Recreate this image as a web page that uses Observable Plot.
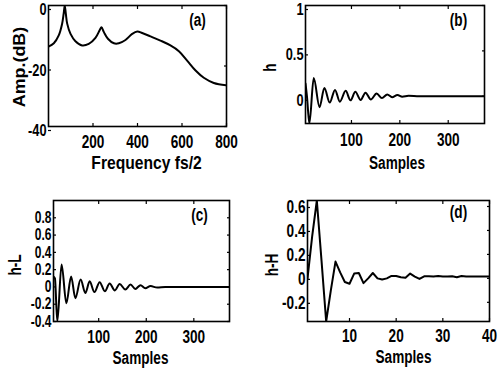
<!DOCTYPE html>
<html><head><meta charset="utf-8">
<script src="https://cdn.jsdelivr.net/npm/d3@7"></script>
<script src="https://cdn.jsdelivr.net/npm/@observablehq/plot@0.6"></script>
<style>
html,body{margin:0;padding:0;background:#fff;}
#fig{position:relative;width:499px;height:374px;overflow:hidden;background:#fff;}
#fig svg{position:absolute;}
</style></head><body><div id="fig"></div>
<script>
// (a) amplitude response
const aFreq = [0, 24, 46, 61, 68, 73, 78, 84, 99, 121, 151, 181, 211, 231, 238, 249, 267, 294, 316, 346, 376, 399, 421, 458, 503, 548, 586, 623, 661, 698, 743, 800];
const aAmp  = [-13.6, -12.5, -9.9, -6.1, -2.8, 0, -2.8, -6, -9.4, -11.8, -13.2, -12.7, -10.7, -8.0, -7.2, -8.8, -11, -12.5, -12.5, -11.4, -9.4, -8.6, -9.1, -10.2, -11.6, -13.2, -15.1, -18.2, -21.5, -23.9, -25.6, -26.4];
// (b) h
const bSamples = [5, 8, 13, 22, 34, 44, 55, 66, 76, 88, 98, 108, 119, 129, 140, 152, 163, 174, 184, 195, 205, 218, 240, 280, 330, 375];
const bValues  = [0.14, 0.0, -0.3, 0.2, -0.12, 0.09, -0.07, 0.07, -0.06, 0.06, -0.045, 0.05, -0.04, 0.04, -0.035, 0.03, -0.02, 0.02, -0.01, 0.015, -0.005, 0.005, 0, 0, 0, 0];
// (c) h-L
const cSamples = [5, 8, 13, 22, 32, 42, 51, 62, 72, 81, 91, 102, 113, 123, 134, 144, 156, 167, 177, 188, 198, 209, 223, 240, 300, 375];
const cValues  = [0.12, 0.1, -0.4, 0.26, -0.19, 0.12, -0.13, 0.085, -0.07, 0.065, -0.06, 0.055, -0.05, 0.04, -0.04, 0.035, -0.03, 0.027, -0.023, 0.02, -0.015, 0.01, -0.008, 0, 0, 0];
// (d) h-H
const dSamples = [1,2,3,4,5,6,7,8,9,10,11,12,13,14,15,16,17,18,19,20,21,22,23,24,25,26,27,28,29,30,31,32,33,34,35,36,37,38,39,40];
const dValues  = [0.0, 0.35, 0.65, 0.15, -0.36, -0.1, 0.14, 0.05, -0.03, -0.045, 0.04, 0.045, -0.04, 0.0, 0.045, 0.0, -0.01, 0.0, 0.02, 0.02, 0.01, 0.005, 0.04, 0.015, -0.005, 0.017, 0.017, 0.015, 0.02, 0.015, 0.015, 0.018, 0.01, 0.02, 0.015, 0.015, 0.015, 0.015, 0.015, 0.015];
// ticks
const aXTicks = [200, 400, 600, 800], aYTicks = [-40, -20, 0];
const bXTicks = [100, 200, 300], bYTicks = [0, 0.5, 1];
const cXTicks = [100, 200, 300], cYTicks = [-0.4, -0.2, 0, 0.2, 0.4, 0.6, 0.8];
const dXTicks = [10, 20, 30, 40], dYTicks = [-0.2, 0, 0.2, 0.4, 0.6];

const FONT = "'Liberation Sans Narrow','Arial Narrow','Liberation Sans',Arial,sans-serif";

function condense(svg) {
  svg.querySelectorAll("text").forEach(t => {
    const txt = t.textContent;
    const s = txt === "Amp.(dB)" ? "scale(1.05,1)" : txt === "Frequency fs/2" ? "scale(0.92,1.08)" : "scale(0.8,1.08)";
    let tr = t.getAttribute("transform");
    if (!tr) {
      const x = +(t.getAttribute("x") || 0), y = +(t.getAttribute("y") || 0);
      t.removeAttribute("x"); t.removeAttribute("y");
      tr = `translate(${x},${y})`;
    }
    t.setAttribute("transform", tr + " " + s);
  });
}

function panel(o) {
  const rows = o.xs.map((x, i) => ({x, y: o.ys[i]}));
  const p = Plot.plot({
    width: o.width, height: o.height,
    marginLeft: o.ml, marginRight: o.mr, marginTop: o.mt, marginBottom: o.mb,
    style: {fontFamily: FONT, fontSize: "17px", fontWeight: "bold", background: "transparent", color: "black", overflow: "visible"},
    x: {domain: o.xDomain},
    y: {domain: o.yDomain},
    marks: [
      Plot.line(rows, {x: "x", y: "y", stroke: "black", strokeWidth: 2, curve: o.curve, clip: true}),
      Plot.frame({stroke: "black", strokeWidth: 1.6}),
      Plot.axisX(o.xTicks, {anchor: "bottom", tickSize: -3, tickPadding: o.xPad, tickFormat: d => String(d), label: null, strokeWidth: 1.2}),
      Plot.axisX(o.xTicks, {anchor: "top", tickSize: -3, tickFormat: () => "", label: null, strokeWidth: 1.2}),
      Plot.axisY(o.yTicks, {anchor: "left", tickSize: -3, tickPadding: 5, dy: o.yDy, fontSize: o.yFont, tickFormat: d => String(d), label: null, strokeWidth: 1.2}),
      Plot.axisY(o.yTicks, {anchor: "right", tickSize: -3, tickFormat: () => "", label: null, strokeWidth: 1.2}),
      Plot.text([o.xLabel], {text: d => d, frameAnchor: "bottom", dx: o.xlDx, dy: o.xlDy, lineAnchor: "middle", textAnchor: "middle"}),
      Plot.text([o.yLabel], {text: d => d, frameAnchor: "left", dx: o.ylDx, dy: o.ylDy, rotate: -90, lineAnchor: "middle", textAnchor: "middle"}),
      Plot.text([o.tag], {text: d => d, frameAnchor: "top-right", dx: o.tDx, dy: o.tDy, lineAnchor: "middle", textAnchor: "middle"})
    ]
  });
  condense(p);
  p.style.left = o.left + "px";
  p.style.top = o.top + "px";
  document.getElementById("fig").appendChild(p);
}

panel({xs: aFreq, ys: aAmp, xDomain: [0, 800], yDomain: [-40, 0], xTicks: aXTicks, yTicks: aYTicks,
  left: 0, top: 0, width: 250, height: 187, ml: 48, mr: 24, mt: 5, mb: 61, curve: "catmull-rom", xPad: 11, yDy: 4, yFont: 16,
  xLabel: "Frequency fs/2", xlDx: 9, xlDy: 37, yLabel: "Amp.(dB)", ylDx: -29, ylDy: 1, tag: "(a)", tDx: -29, tDy: 15});

panel({xs: bSamples, ys: bValues, xDomain: [5, 375], yDomain: [-0.3, 1], xTicks: bXTicks, yTicks: bYTicks,
  left: 250, top: 0, width: 249, height: 187, ml: 55, mr: 15, mt: 5, mb: 64, curve: "monotone-x", xPad: 12, yDy: 4, yFont: 16,
  xLabel: "Samples", xlDx: 2, xlDy: 40, yLabel: "h", ylDx: -35, ylDy: 3, tag: "(b)", tDx: -26, tDy: 15});

panel({xs: cSamples, ys: cValues, xDomain: [5, 375], yDomain: [-0.4, 1], xTicks: cXTicks, yTicks: cYTicks,
  left: 0, top: 187, width: 250, height: 187, ml: 53, mr: 21, mt: 13, mb: 53, curve: "monotone-x", xPad: 11, yDy: 0, yFont: 15,
  xLabel: "Samples", xlDx: -1, xlDy: 37, yLabel: "h-L", ylDx: -38, ylDy: 4, tag: "(c)", tDx: -30, tDy: 15});

panel({xs: dSamples, ys: dValues, xDomain: [1, 40], yDomain: [-0.36, 0.65], xTicks: dXTicks, yTicks: dYTicks,
  left: 250, top: 187, width: 249, height: 187, ml: 57, mr: 10, mt: 13, mb: 53, curve: "linear", xPad: 10, yDy: 1, yFont: 17,
  xLabel: "Samples", xlDx: 5, xlDy: 36, yLabel: "h-H", ylDx: -35, ylDy: 4, tag: "(d)", tDx: -31, tDy: 12});
</script>
</body></html>
